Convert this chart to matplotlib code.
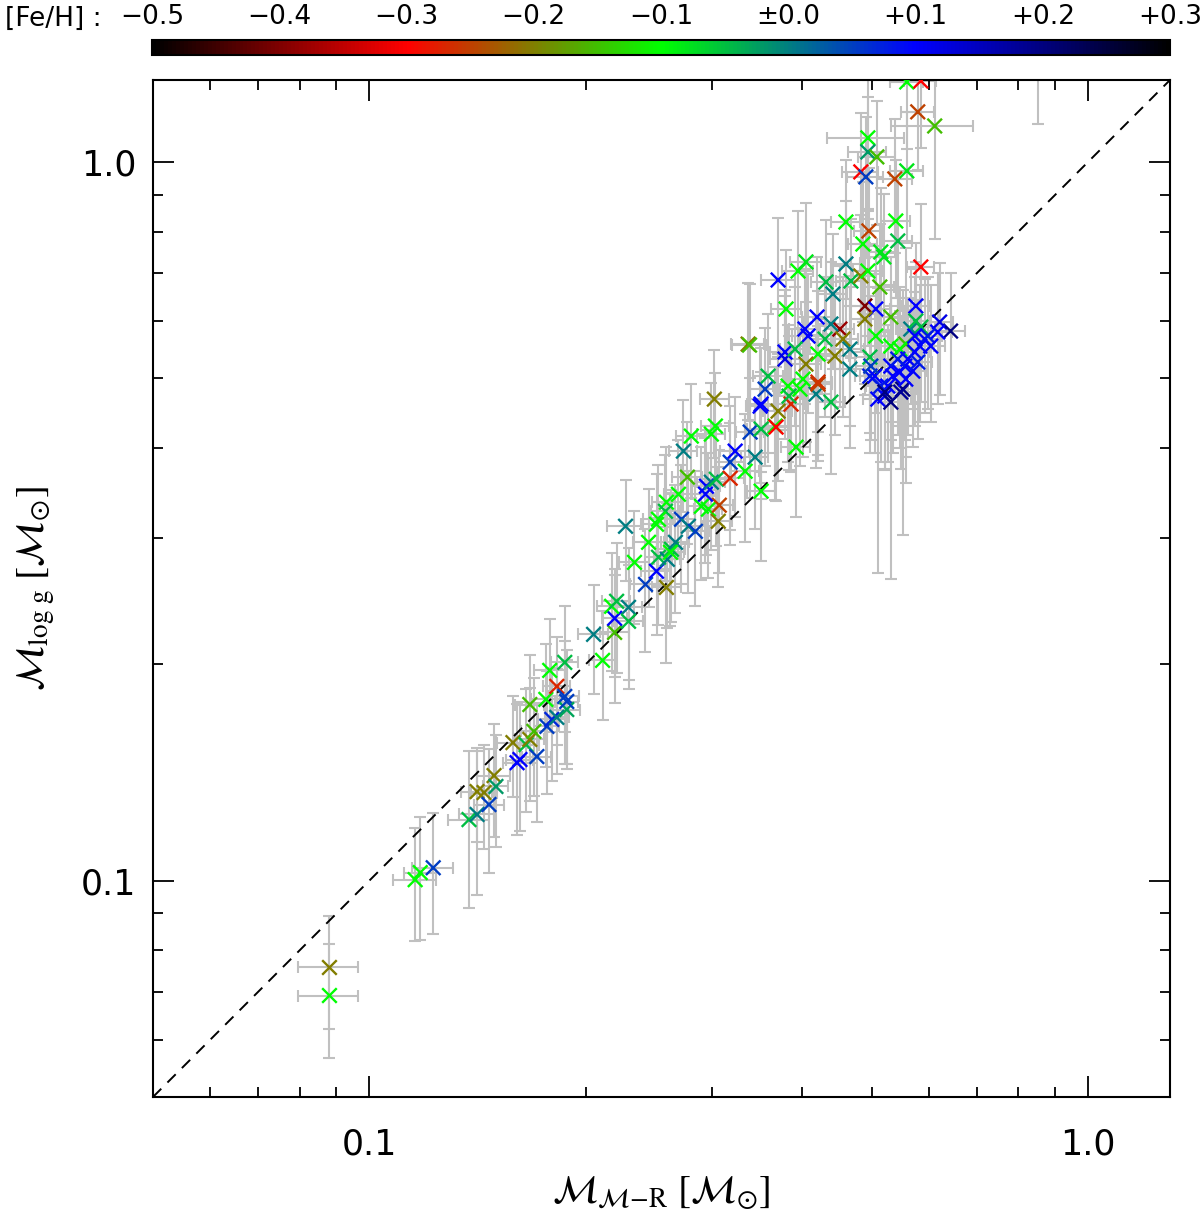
"""
Mass from log g versus mass from the mass-radius relation, coloured by [Fe/H]
"""

import numpy as np

import matplotlib

matplotlib.use("Agg")
import matplotlib.pyplot as plt  # noqa:E402
from matplotlib.cm import ScalarMappable  # noqa:E402
from matplotlib.colors import LinearSegmentedColormap, Normalize  # noqa:E402
from matplotlib.ticker import FixedLocator, LogLocator, NullFormatter  # noqa:E402

# masses from the mass-radius relation [Msun]
m_mr = [
    0.088, 0.088, 0.1158, 0.1177, 0.1227, 0.1376, 0.1412, 0.1412, 0.1444, 0.1467,
    0.1491, 0.1500, 0.1605, 0.1584, 0.1652, 0.1672, 0.1694, 0.1710, 0.1672, 0.1760,
    0.1766, 0.1794, 0.1823, 0.1782, 0.1823, 0.1870, 0.1870, 0.1882, 0.1882, 0.2051,
    0.2111, 0.2194, 0.2194, 0.2173, 0.2208, 0.2294, 0.2294, 0.2272, 0.2338, 0.2422,
    0.2446, 0.2509, 0.2525, 0.2509, 0.2590, 0.2598, 0.2632, 0.3020, 0.3030, 0.2991,
    0.2805, 0.2735, 0.2770, 0.2692, 0.2590, 0.2582, 0.2525, 0.2666, 0.2624, 0.2718,
    0.2779, 0.2842, 0.2897, 0.2944, 0.2991, 0.3039, 0.2963, 0.3068, 0.3058, 0.3177,
    0.3177, 0.3228, 0.3333, 0.3441, 0.3387, 0.3508, 0.3508, 0.3508, 0.3668, 0.3680,
    0.3704, 0.3861, 0.3923, 0.4183, 0.4387, 0.4209, 0.3704, 0.3948, 0.4050, 0.3800,
    0.3365, 0.3380, 0.4196, 0.4318, 0.4415, 0.4603, 0.4677, 0.4828, 0.4938, 0.5131,
    0.4860, 0.5147, 0.5435, 0.5851, 0.5758, 0.4891, 0.5065, 0.5315, 0.4891, 0.4515,
    0.4387, 0.4037, 0.4077, 0.3787, 0.3787, 0.4559, 0.4443, 0.4662, 0.4209, 0.4050,
    0.3911, 0.4209, 0.3587, 0.3553, 0.3497, 0.3824, 0.4012, 0.4662, 0.4970, 0.5065,
    0.4970, 0.5315, 0.5576, 0.5470, 0.5851, 0.5666, 0.5758, 0.6215, 0.6436, 0.6176,
    0.5098, 0.5214, 0.5264, 0.5349, 0.5470, 0.5558, 0.5612, 0.5739, 0.5832, 0.5924,
    0.5982, 0.5522, 0.5147, 0.5049, 0.5315, 0.5435, 0.5576, 0.5702, 0.5794, 0.6040,
    0.4985, 0.5214, 0.5315, 0.5487, 0.5739, 0.5594, 0.5851, 0.5794, 0.6117, 0.4938,
    0.4938, 0.5082, 0.4828, 0.4906, 0.5383, 0.5594, 0.4603, 0.4954, 0.5400, 0.5197,
    0.3836, 0.3973, 0.4305, 0.1620, 0.2935, 0.852,
]

# masses from log g [Msun]
m_logg = [
    0.0757, 0.0692, 0.1003, 0.1026, 0.1042, 0.1216, 0.1236, 0.1330, 0.1326, 0.1276,
    0.1400, 0.1352, 0.1459, 0.1556, 0.1546, 0.1572, 0.1613, 0.1488, 0.1758, 0.1787,
    0.1639, 0.1676, 0.1687, 0.1961, 0.1863, 0.2012, 0.1804, 0.1730, 0.1775, 0.2201,
    0.2025, 0.2215, 0.2317, 0.2408, 0.2447, 0.2400, 0.2295, 0.3112, 0.2772, 0.2583,
    0.2956, 0.3132, 0.2818, 0.2694, 0.2558, 0.2799, 0.2891, 0.4677, 0.4290, 0.4181,
    0.4154, 0.3959, 0.3642, 0.3448, 0.3361, 0.3265, 0.3183, 0.2956, 0.2863, 0.3183,
    0.3112, 0.3062, 0.3318, 0.3538, 0.3584, 0.3618, 0.3287, 0.3329, 0.3162, 0.3630,
    0.3821, 0.3959, 0.3712, 0.3883, 0.4208, 0.4249, 0.3482, 0.4603, 0.4290, 0.4276,
    0.4500, 0.4603, 0.4010, 0.4752, 0.4632, 0.4907, 0.6850, 0.7050, 0.7258, 0.6242,
    0.5579, 0.5560, 0.6084, 0.6806, 0.6550, 0.7211, 0.6828, 0.6938, 0.7050, 0.6698,
    0.7687, 0.7494, 0.7762, 0.7142, 0.6303, 0.6303, 0.6242, 0.6084, 0.6045, 0.5854,
    0.5949, 0.5854, 0.5724, 0.5438, 0.5317, 0.5669, 0.5368, 0.5490, 0.5403, 0.5232,
    0.5490, 0.4939, 0.5034, 0.4829, 0.4573, 0.4876, 0.4986, 0.5149, 0.5351, 0.5724,
    0.5034, 0.5543, 0.5579, 0.5490, 0.5891, 0.5854, 0.6006, 0.5987, 0.5816, 0.5798,
    0.4677, 0.4722, 0.4876, 0.5034, 0.5099, 0.5199, 0.5317, 0.5438, 0.5543, 0.5669,
    0.5724, 0.4829, 0.4876, 0.5034, 0.5199, 0.5317, 0.4986, 0.5116, 0.5266, 0.5543,
    0.5199, 0.4783, 0.4632, 0.4783, 0.5724, 1.292, 1.296, 1.174, 1.122, 1.080,
    1.0325, 1.0162, 0.9685, 0.9532, 0.9470, 0.9716, 0.8249, 0.8015, 0.8275, 0.7375,
    0.4722, 0.4829, 0.5669, 0.1474, 0.3449, 1.45,
]

# metallicity [Fe/H]
feh = [
    -0.20, -0.10, -0.10, -0.10, 0.05, -0.05, 0.00, -0.20, -0.20, 0.05,
    -0.20, -0.02, 0.10, -0.20, -0.05, -0.20, -0.15, 0.05, -0.15, -0.10,
    0.05, 0.07, 0.00, -0.10, -0.27, -0.05, 0.05, -0.03, 0.05, 0.00,
    -0.10, -0.15, 0.10, -0.10, -0.05, 0.00, -0.05, 0.00, -0.10, 0.05,
    -0.10, -0.10, -0.05, 0.10, -0.20, 0.00, -0.05, -0.20, -0.10, -0.10,
    -0.10, 0.00, -0.15, -0.10, -0.10, -0.05, -0.10, 0.00, -0.10, 0.05,
    0.00, 0.05, -0.10, 0.10, 0.00, -0.05, -0.10, -0.25, -0.20, -0.27,
    0.05, 0.10, -0.10, 0.00, 0.05, -0.05, -0.10, 0.10, -0.10, -0.30,
    -0.20, -0.27, -0.10, 0.00, -0.05, -0.25, 0.10, -0.10, -0.08, -0.10,
    -0.20, -0.15, 0.10, -0.05, 0.00, 0.00, -0.05, -0.20, -0.10, -0.15,
    -0.10, -0.08, -0.05, -0.30, 0.10, -0.40, 0.10, -0.15, -0.20, -0.38,
    0.00, 0.10, 0.10, 0.10, 0.12, -0.20, -0.20, 0.00, -0.10, -0.20,
    -0.05, -0.26, -0.05, 0.05, 0.10, -0.10, -0.10, 0.00, -0.05, -0.10,
    0.08, -0.10, -0.15, -0.10, -0.05, 0.00, -0.05, 0.12, 0.20, 0.10,
    0.10, 0.10, 0.10, 0.10, 0.10, 0.10, 0.10, 0.10, 0.10, 0.10,
    0.08, 0.20, 0.08, 0.10, 0.10, 0.08, 0.10, 0.10, 0.08, 0.10,
    0.05, 0.20, 0.20, 0.18, 0.10, -0.10, -0.30, -0.25, -0.15, -0.10,
    -0.02, -0.15, -0.30, 0.05, -0.25, -0.08, -0.10, -0.25, -0.10, -0.08,
    -0.05, -0.10, -0.05, 0.10, 0.10, -0.10,
]

# 1-sigma uncertainties [Msun]
err_mr = [
    0.0085, 0.0085, 0.008, 0.006, 0.008, 0.009, 0.008, 0.007, 0.006, 0.007,
    0.008, 0.006, 0.007, 0.008, 0.007, 0.008, 0.007, 0.008, 0.008, 0.008,
    0.007, 0.008, 0.007, 0.009, 0.008, 0.008, 0.009, 0.008, 0.007, 0.010,
    0.009, 0.010, 0.009, 0.010, 0.010, 0.010, 0.011, 0.013, 0.011, 0.012,
    0.012, 0.012, 0.011, 0.012, 0.012, 0.011, 0.012, 0.014, 0.014, 0.013,
    0.013, 0.012, 0.013, 0.012, 0.012, 0.012, 0.012, 0.012, 0.012, 0.012,
    0.012, 0.013, 0.013, 0.013, 0.013, 0.014, 0.013, 0.014, 0.014, 0.014,
    0.014, 0.015, 0.015, 0.015, 0.015, 0.016, 0.016, 0.016, 0.017, 0.017,
    0.017, 0.018, 0.018, 0.020, 0.020, 0.020, 0.020, 0.020, 0.020, 0.018,
    0.018, 0.018, 0.020, 0.020, 0.021, 0.022, 0.022, 0.023, 0.023, 0.024,
    0.023, 0.024, 0.025, 0.026, 0.026, 0.023, 0.024, 0.025, 0.023, 0.021,
    0.021, 0.020, 0.020, 0.018, 0.018, 0.022, 0.021, 0.022, 0.020, 0.020,
    0.019, 0.020, 0.017, 0.017, 0.016, 0.018, 0.019, 0.022, 0.023, 0.024,
    0.023, 0.025, 0.026, 0.025, 0.027, 0.026, 0.026, 0.028, 0.030, 0.028,
    0.024, 0.024, 0.024, 0.025, 0.025, 0.026, 0.026, 0.026, 0.027, 0.027,
    0.028, 0.026, 0.024, 0.024, 0.025, 0.025, 0.026, 0.026, 0.027, 0.028,
    0.023, 0.024, 0.025, 0.025, 0.026, 0.030, 0.030, 0.030, 0.080, 0.060,
    0.030, 0.030, 0.028, 0.028, 0.030, 0.030, 0.022, 0.023, 0.025, 0.024,
    0.018, 0.019, 0.021, 0.007, 0.013, 0.040,
]
err_logg = [
    0.0135, 0.0125, 0.018, 0.020, 0.020, 0.030, 0.028, 0.020, 0.022, 0.025,
    0.025, 0.024, 0.030, 0.025, 0.030, 0.028, 0.030, 0.028, 0.030, 0.035,
    0.032, 0.030, 0.028, 0.035, 0.032, 0.040, 0.035, 0.030, 0.032, 0.038,
    0.035, 0.045, 0.040, 0.045, 0.050, 0.050, 0.045, 0.050, 0.050, 0.050,
    0.055, 0.055, 0.055, 0.050, 0.055, 0.055, 0.060, 0.080, 0.080, 0.075,
    0.075, 0.070, 0.070, 0.065, 0.065, 0.065, 0.060, 0.060, 0.060, 0.060,
    0.060, 0.065, 0.070, 0.070, 0.070, 0.070, 0.065, 0.065, 0.060, 0.070,
    0.075, 0.075, 0.075, 0.080, 0.080, 0.085, 0.070, 0.090, 0.090, 0.090,
    0.090, 0.090, 0.080, 0.100, 0.095, 0.100, 0.150, 0.150, 0.150, 0.130,
    0.120, 0.120, 0.130, 0.150, 0.140, 0.160, 0.150, 0.150, 0.150, 0.150,
    0.170, 0.170, 0.170, 0.160, 0.140, 0.140, 0.140, 0.130, 0.130, 0.130,
    0.130, 0.125, 0.125, 0.120, 0.120, 0.125, 0.120, 0.120, 0.120, 0.115,
    0.120, 0.110, 0.110, 0.105, 0.100, 0.105, 0.110, 0.115, 0.115, 0.125,
    0.110, 0.120, 0.200, 0.120, 0.125, 0.125, 0.125, 0.125, 0.120, 0.120,
    0.200, 0.100, 0.105, 0.110, 0.110, 0.110, 0.115, 0.115, 0.120, 0.120,
    0.120, 0.180, 0.105, 0.110, 0.110, 0.115, 0.110, 0.110, 0.115, 0.120,
    0.110, 0.105, 0.200, 0.105, 0.120, 0.250, 0.250, 0.200, 0.340, 0.220,
    0.200, 0.200, 0.200, 0.200, 0.200, 0.200, 0.180, 0.180, 0.180, 0.165,
    0.100, 0.105, 0.125, 0.030, 0.068, 0.320,
]

feh_ticks = [-0.5, -0.4, -0.3, -0.2, -0.1, 0.0, 0.1, 0.2, 0.3]
feh_labels = ["\u22120.5", "\u22120.4", "\u22120.3", "\u22120.2", "\u22120.1",
              "\u00b10.0", "+0.1", "+0.2", "+0.3"]
mass_ticks = [0.1, 1.0]
mass_labels = ["0.1", "1.0"]
mass_lim = (0.05, 1.3)


def feh_cmap():
    # black -> red -> green -> blue -> black, linear in RGB
    return LinearSegmentedColormap.from_list(
        "feh", ["#000000", "#ff0000", "#00ff00", "#0000ff", "#000000"]
    )


def main():
    assert len(m_mr) == len(m_logg) == len(feh) == len(err_mr) == len(err_logg)

    plt.rcParams["font.family"] = "DejaVu Sans"
    plt.rcParams["mathtext.fontset"] = "stix"

    fig = plt.figure(figsize=(12, 12.16), dpi=100)
    ax = fig.add_axes([0.1275, 0.0979, 0.8475, 0.8363])

    cmap = feh_cmap()
    norm = Normalize(vmin=-0.5, vmax=0.3)

    ax.errorbar(m_mr, m_logg, xerr=err_mr, yerr=err_logg, fmt="none",
                ecolor="#c0c0c0", elinewidth=1.5, capsize=4, capthick=1.5,
                zorder=1)
    ax.scatter(m_mr, m_logg, c=feh, cmap=cmap, norm=norm, marker="x",
               s=110, linewidths=1.7, zorder=3)

    ax.plot(mass_lim, mass_lim, color="black", lw=1.4, ls="--",
            dashes=(6, 4.5), zorder=2)

    ax.set_xscale("log")
    ax.set_yscale("log")
    ax.set_xlim(*mass_lim)
    ax.set_ylim(*mass_lim)

    for axis in (ax.xaxis, ax.yaxis):
        axis.set_major_locator(FixedLocator(mass_ticks))
        axis.set_major_formatter(plt.FixedFormatter(mass_labels))
        axis.set_minor_locator(LogLocator(base=10, subs=np.arange(2, 10)))
        axis.set_minor_formatter(NullFormatter())

    ax.tick_params(which="both", direction="in", top=True, right=True,
                   width=1.3, labelsize=25)
    ax.tick_params(which="major", length=15)
    ax.tick_params(which="minor", length=7)
    ax.tick_params(axis="x", pad=22)
    ax.tick_params(axis="y", pad=12)
    for spine in ax.spines.values():
        spine.set_linewidth(1.5)

    fig.text(0.551, 0.0197,
             r"$\mathcal{M}_{\mathcal{M}\mathrm{-R}}\ \left[\mathcal{M}_{\odot}\right]$",
             ha="center", va="center", fontsize=28)
    fig.text(0.03, 0.516,
             r"$\mathcal{M}_{\mathrm{log\ g}}\ \left[\mathcal{M}_{\odot}\right]$",
             ha="center", va="center", rotation=90, fontsize=28)

    # colour bar along the top
    cax = fig.add_axes([0.1267, 1 - 55 / 1216, 0.8483, 15 / 1216])
    cb = fig.colorbar(ScalarMappable(norm=norm, cmap=cmap), cax=cax,
                      orientation="horizontal")
    cb.set_ticks(feh_ticks)
    cb.set_ticklabels(feh_labels)
    cax.xaxis.set_ticks_position("top")
    cax.tick_params(length=0, pad=7, labelsize=19)
    cb.outline.set_linewidth(1.5)
    fig.text(0.004, 1 - 19 / 1216, "[Fe/H] :", ha="left", va="center",
             fontsize=19)

    fig.savefig("out.png", dpi=100)
    plt.close(fig)


if __name__ == "__main__":
    main()
